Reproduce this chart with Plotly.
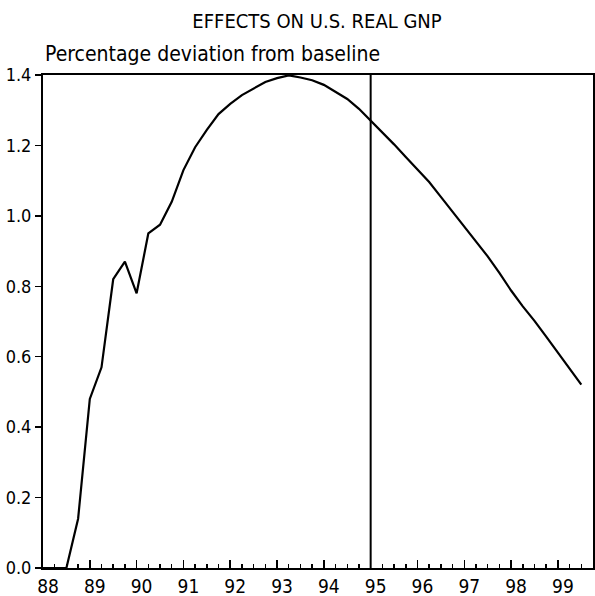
import plotly.graph_objects as go

# Quarterly periods 1988Q1 .. 1999Q3
years = [88, 89, 90, 91, 92, 93, 94, 95, 96, 97, 98, 99]
quarter_offsets = [0.0, 0.25, 0.5, 0.75]
# Percentage deviation of real GNP from baseline, one value per quarter
gnp_dev = [
    0.0, 0.0, 0.0, 0.14,          # 1988
    0.48, 0.57, 0.82, 0.87,       # 1989
    0.78, 0.95, 0.975, 1.04,      # 1990
    1.13, 1.195, 1.244, 1.289,    # 1991
    1.318, 1.343, 1.362, 1.38,    # 1992
    1.391, 1.399, 1.393, 1.385,   # 1993
    1.372, 1.351, 1.332, 1.304,   # 1994
    1.271, 1.238, 1.203, 1.167,   # 1995
    1.131, 1.096, 1.054, 1.011,   # 1996
    0.969, 0.926, 0.885, 0.838,   # 1997
    0.788, 0.743, 0.702, 0.657,   # 1998
    0.612, 0.566, 0.521,          # 1999
]
tick_labels = ["88", "89", "90", "91", "92", "93", "94", "95", "96", "97", "98", "99"]
y_ticks = [0.0, 0.2, 0.4, 0.6, 0.8, 1.0, 1.2, 1.4]
forecast_start = 95.0

all_quarters = [y + q for y in years for q in quarter_offsets]
periods = all_quarters[: len(gnp_dev)]
minor_ticks = [p for p in all_quarters if p not in years]

NARROW = "DejaVu Sans Condensed, Liberation Sans Narrow, Arial Narrow, sans-serif"

fig = go.Figure()
fig.add_trace(go.Scatter(
    x=periods, y=gnp_dev, mode="lines",
    line=dict(color="black", width=2.2),
    showlegend=False, hoverinfo="skip",
))

fig.add_shape(type="line", xref="x", yref="y",
              x0=forecast_start, x1=forecast_start, y0=0, y1=1.4,
              line=dict(color="black", width=2))

fig.update_layout(
    width=595, height=596,
    margin=dict(l=43, r=2, t=75, b=28, pad=0),
    paper_bgcolor="white", plot_bgcolor="white",
    title=dict(text="EFFECTS ON U.S. REAL GNP",
               font=dict(family=NARROW, size=20, color="black"),
               xref="container", x=317 / 595, xanchor="center",
               yref="container", y=1 - 21 / 596, yanchor="middle"),
    annotations=[dict(
        text="Percentage deviation from baseline",
        xref="paper", yref="paper", x=0, y=1,
        xanchor="left", yanchor="bottom", xshift=0, yshift=7,
        showarrow=False,
        font=dict(family=NARROW, size=21, color="black"),
    )],
    xaxis=dict(
        range=[88, 99.75],
        tickmode="array", tickvals=years, ticktext=tick_labels,
        ticks="inside", ticklen=8, tickwidth=1.5, tickcolor="black",
        minor=dict(ticks="inside", ticklen=4, tickwidth=1.5, tickcolor="black",
                   tickmode="array", tickvals=minor_ticks, showgrid=False),
        ticklabelshift=5,
        tickfont=dict(family=NARROW, size=19, color="black"),
        showline=True, linecolor="black", linewidth=2, mirror=True,
        showgrid=False, zeroline=False, fixedrange=True, automargin=False,
    ),
    yaxis=dict(
        range=[0, 1.4],
        tickmode="array", tickvals=y_ticks,
        ticktext=[f"{v:.1f}" for v in y_ticks],
        ticks="outside", ticklen=6, tickwidth=1.5, tickcolor="black",
        tickfont=dict(family=NARROW, size=18, color="black"),
        showline=True, linecolor="black", linewidth=2, mirror=True,
        showgrid=False, zeroline=False, fixedrange=True, automargin=False,
    ),
)

fig.write_html(
    "out.html",
    config={"displayModeBar": False, "staticPlot": True},
    post_script="document.body.style.margin='0';document.body.style.overflow='hidden';",
)
